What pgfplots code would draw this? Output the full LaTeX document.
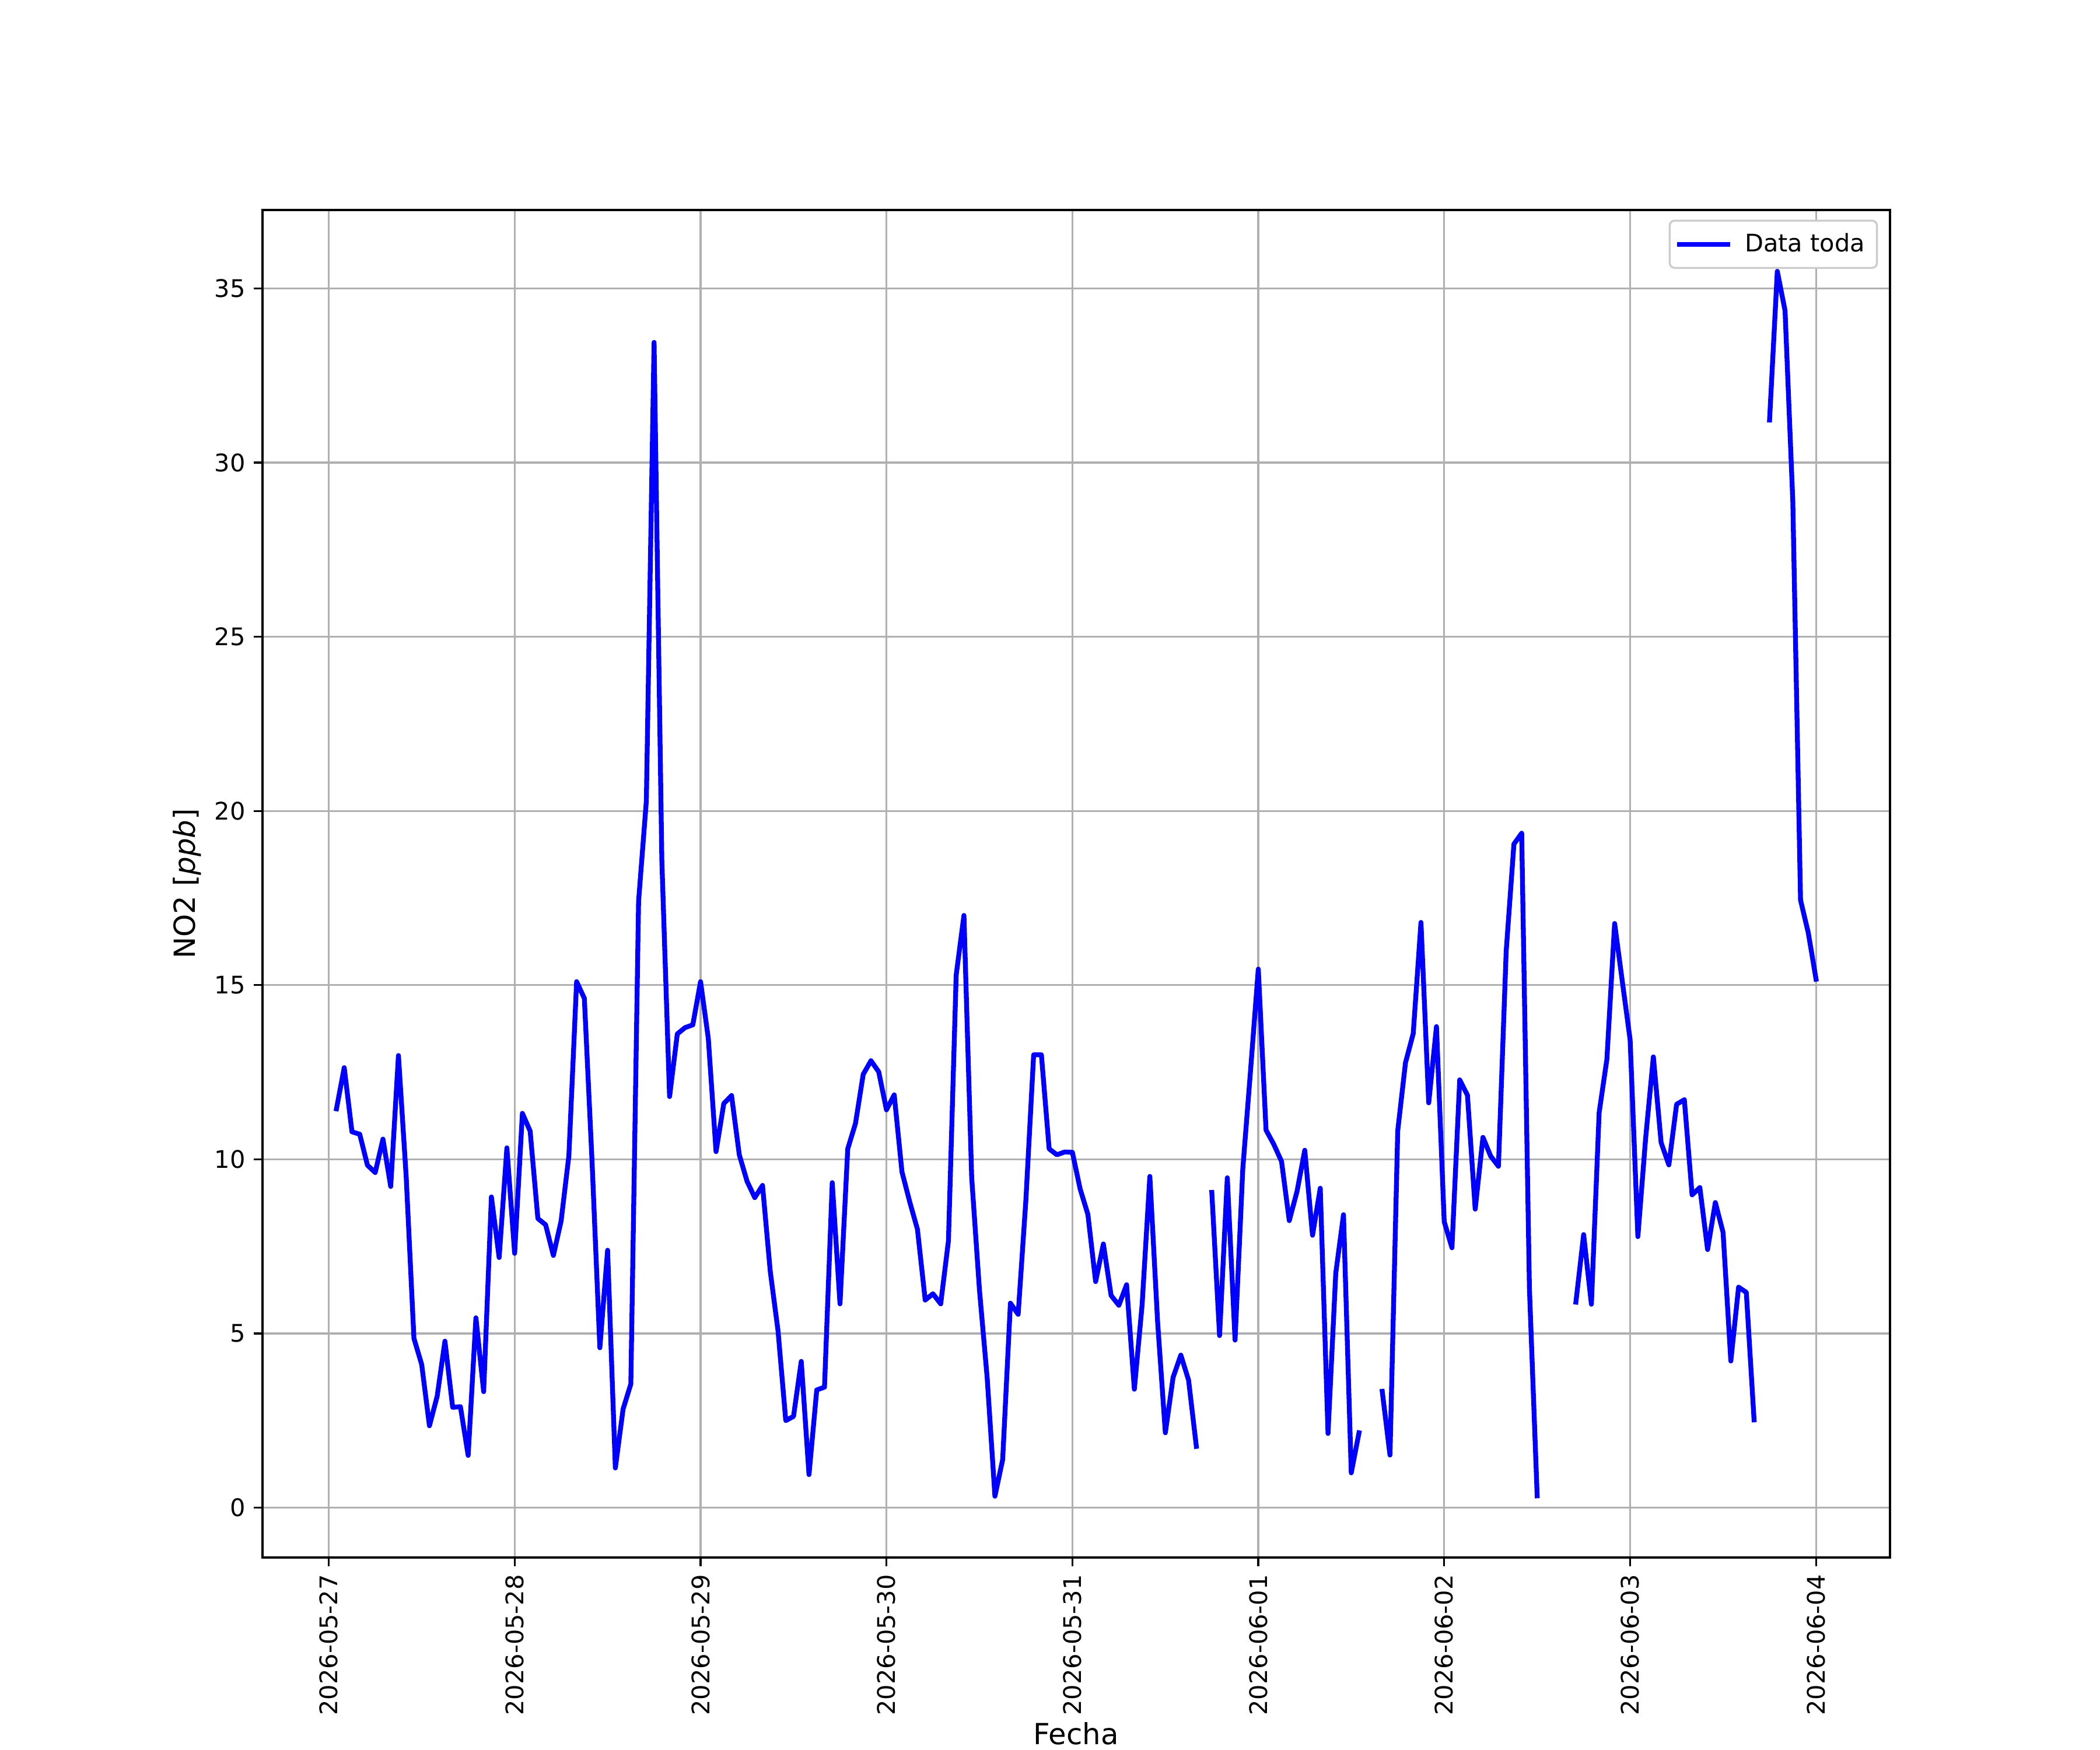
\documentclass[border=0pt]{standalone}
\usepackage{fontspec}
\setmainfont{DejaVu Sans}
\usepackage{pgfplots}
\usepackage{pgfplotstable}
\pgfplotsset{compat=1.18}
\definecolor{gridgray}{HTML}{B0B0B0}
\definecolor{leggray}{HTML}{CCCCCC}
\pgfplotstableread{
h v
1 11.45
2 12.63
3 10.79
4 10.72
5 9.83
6 9.62
7 10.58
8 9.22
9 12.98
10 9.5
11 4.86
12 4.11
13 2.35
14 3.2
15 4.78
16 2.88
17 2.9
18 1.5
19 5.45
20 3.33
21 8.92
22 7.18
23 10.33
24 7.3
25 11.32
26 10.81
27 8.3
28 8.12
29 7.24
30 8.23
31 10.1
32 15.1
33 14.62
34 9.9
35 4.59
36 7.39
37 1.14
38 2.83
39 3.55
40 17.41
41 20.28
42 33.45
43 18.6
44 11.8
45 13.6
46 13.78
47 13.86
48 15.1
49 13.47
50 10.22
51 11.6
52 11.83
53 10.13
54 9.37
55 8.9
56 9.25
57 6.78
58 5.08
59 2.5
60 2.62
61 4.2
62 0.95
63 3.38
64 3.46
65 9.33
66 5.85
67 10.3
68 11.03
69 12.44
70 12.83
71 12.51
72 11.42
73 11.85
74 9.64
75 8.78
76 7.99
77 5.96
78 6.14
79 5.85
80 7.66
81 15.29
82 17.0
83 9.48
84 6.26
85 3.73
86 0.33
87 1.38
88 5.87
89 5.55
90 8.84
91 13.0
92 13.0
93 10.3
94 10.13
95 10.21
96 10.2
97 9.15
98 8.42
99 6.49
100 7.57
101 6.09
102 5.81
103 6.4
104 3.4
105 5.82
106 9.51
107 5.34
108 2.15
109 3.74
110 4.38
111 3.66
112 1.76
113 nan
114 9.05
115 4.94
116 9.47
117 4.81
118 9.73
119 12.55
120 15.46
121 10.84
122 10.43
123 9.94
124 8.24
125 9.08
126 10.26
127 7.82
128 9.17
129 2.13
130 6.73
131 8.41
132 1.0
133 2.15
134 nan
135 nan
136 3.34
137 1.51
138 10.82
139 12.77
140 13.61
141 16.8
142 11.62
143 13.81
144 8.21
145 7.46
146 12.28
147 11.84
148 8.57
149 10.63
150 10.09
151 9.8
152 15.97
153 19.05
154 19.36
155 6.3
156 0.34
157 nan
158 nan
159 nan
160 nan
161 5.9
162 7.84
163 5.84
164 11.34
165 12.87
166 16.77
167 15.09
168 13.43
169 7.78
170 10.6
171 12.94
172 10.48
173 9.84
174 11.58
175 11.71
176 8.98
177 9.19
178 7.41
179 8.76
180 7.9
181 4.21
182 6.33
183 6.18
184 2.52
185 nan
186 31.22
187 35.49
188 34.36
189 28.9
190 17.44
191 16.5
192 15.17
}\datatable
\begin{document}
\begin{tikzpicture}
\path[use as bounding box] (-1.5in,-1.1in) rectangle (10.5in,8.9in);
\begin{axis}[
  at={(0,0)}, anchor=south west,
  scale only axis, width=9.3in, height=7.7in,
  xmin=-8.55, xmax=201.55, ymin=-1.43, ymax=37.25,
  xtick={0,24,48,72,96,120,144,168,192},
  xticklabels={2026-05-27,2026-05-28,2026-05-29,2026-05-30,2026-05-31,2026-06-01,2026-06-02,2026-06-03,2026-06-04},
  ytick={0,5,10,15,20,25,30,35},
  /pgf/number format/assume math mode=true,
  tick align=outside, major tick length=3.5pt,
  tick style={black, line width=0.8pt},
  xtick pos=bottom, ytick pos=left,
  axis line style={line width=0.8pt},
  grid=major, major grid style={gridgray, line width=0.8pt},
  tick label style={font=\fontsize{10}{12}\selectfont},
  xticklabel style={rotate=90, anchor=east},
  xlabel={Fecha}, ylabel={NO2 [\textit{ppb}]},
  xlabel style={at={(ticklabel cs:0.5,-0.5pt)}, anchor=north, inner sep=0pt, font=\fontsize{12}{14}\selectfont},
  ylabel style={at={(ticklabel cs:0.5,2pt)}, rotate=0, anchor=south, inner sep=0pt, font=\fontsize{12}{14}\selectfont},
  unbounded coords=jump,
  legend style={at={(1,1)}, anchor=north east, xshift=-5pt, yshift=-4pt,
    draw=leggray, line width=0.8pt, rounded corners=2pt, fill=white,
    inner xsep=3pt, inner ysep=3.2pt, column sep=4pt, font=\fontsize{10}{12}\selectfont},
  legend cell align=left,
  legend image code/.code={\draw[#1, line cap=rect] (0pt,0pt) -- (20pt,0pt);},
]
\addplot[blue, line width=2pt, line join=round, line cap=rect] table[x=h, y=v] {\datatable};
\addlegendentry{Data toda}
\end{axis}
\end{tikzpicture}
\end{document}
